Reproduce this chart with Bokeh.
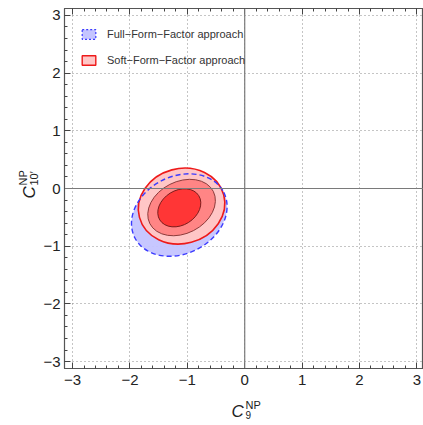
import math
from bokeh.plotting import figure
from bokeh.layouts import row, column
from bokeh.models import (Range1d, SingleIntervalTicker, LinearAxis, Span, Legend,
                          LegendItem, Label, CustomJSTickFormatter, ColumnDataSource)
from bokeh.embed import file_html
from bokeh.resources import INLINE

# ---------------- data ----------------
# Full-Form-Factor approach: allowed region (ellipse parameters)
ffa_cx = [-1.14]
ffa_cy = [-0.46]
ffa_w = [1.74]
ffa_h = [1.34]
ffa_angle = [27]

# Soft-Form-Factor approach: 3 sigma, 2 sigma, 1 sigma regions
sfa_level = ["3σ", "2σ", "1σ"]
sfa_cx = [-1.10, -1.10, -1.14]
sfa_cy = [-0.305, -0.33, -0.335]
sfa_w = [1.52, 1.24, 0.80]
sfa_h = [1.30, 0.90, 0.60]
sfa_angle = [15, 27, 32]

legend_labels = ["Full\u2212Form\u2212Factor approach", "Soft\u2212Form\u2212Factor approach"]
NAN = float("nan")

# ---------------- styles ----------------
sfa_fill = ["#ffc6c6", "#ff8585", "#ff3636"]
sfa_line = ["#ee1a1a", "#8c3a3a", "#7a1c1c"]
sfa_lw = [1.6, 1.0, 1.0]
FONT = "Liberation Sans"

YT_W = 40      # width of the strip holding the y title
MAIN_H = 392   # height of the main figure
XT_H = 28      # height of the strip holding the x title

p = figure(width=423 - YT_W, height=MAIN_H,
           x_range=Range1d(-3.14, 3.115), y_range=Range1d(-3.12, 3.12),
           output_backend="svg", toolbar_location=None,
           min_border_left=64 - YT_W, min_border_right=0, min_border_top=8,
           min_border_bottom=MAIN_H - 368, background_fill_color="white",
           border_fill_color="white")
p.outline_line_color = "#555555"
p.outline_line_width = 1.2

ticker = SingleIntervalTicker(interval=1, num_minor_ticks=5)
fmt = CustomJSTickFormatter(code="return tick < 0 ? '\\u2212' + Math.abs(tick) : String(tick);")

for ax in [p.xaxis[0], p.yaxis[0]]:
    ax.ticker = ticker
    ax.formatter = fmt
    ax.major_tick_in = 6
    ax.major_tick_out = 0
    ax.minor_tick_in = 3
    ax.minor_tick_out = 0
    ax.major_tick_line_color = "#444444"
    ax.minor_tick_line_color = "#444444"
    ax.axis_line_color = "#555555"
    ax.major_label_text_font = FONT
    ax.major_label_text_font_size = "15px"
    ax.major_label_text_color = "#222222"
p.xaxis.major_label_standoff = 6
p.yaxis.major_label_standoff = 4

top_ax = LinearAxis(ticker=ticker, major_tick_in=6, major_tick_out=0,
                    minor_tick_in=3, minor_tick_out=0,
                    major_label_text_font_size="0px", major_label_standoff=0,
                    major_tick_line_color="#444444", minor_tick_line_color="#444444",
                    axis_line_color="#555555")
top_ax.formatter = CustomJSTickFormatter(code="return '';")
p.add_layout(top_ax, "above")

p.xgrid.ticker = ticker
p.ygrid.ticker = ticker
for g in [p.xgrid[0], p.ygrid[0]]:
    g.grid_line_color = "#8a8a8a"
    g.grid_line_dash = "1 3"
    g.grid_line_width = 1

# blue region (fill)
ffa_src = ColumnDataSource(dict(x=ffa_cx, y=ffa_cy, w=ffa_w, h=ffa_h, a=ffa_angle))
p.ellipse(x="x", y="y", width="w", height="h", angle="a", angle_units="deg",
          source=ffa_src, fill_color="#c4c4ff", fill_alpha=0.95, line_color=None)

# red regions
sfa_src = ColumnDataSource(dict(x=sfa_cx, y=sfa_cy, w=sfa_w, h=sfa_h, a=sfa_angle,
                                fc=sfa_fill, lc=sfa_line, lw=sfa_lw, lev=sfa_level))
p.ellipse(x="x", y="y", width="w", height="h", angle="a", angle_units="deg",
          source=sfa_src, fill_color="fc", line_color="lc", line_width="lw")

# blue dashed boundary on top
p.ellipse(x="x", y="y", width="w", height="h", angle="a", angle_units="deg",
          source=ffa_src, fill_color=None, line_color="#3b3bff", line_width=1.4,
          line_dash="5 3")

# zero lines
p.add_layout(Span(location=0, dimension="height", line_color="#7a7a7a", line_width=1.2))
p.add_layout(Span(location=0, dimension="width", line_color="#7a7a7a", line_width=1.2))

# legend swatches (no visible marks, used only for rectangular legend glyphs)
r_blue = p.patch(x=[NAN], y=[NAN], fill_color="#c4c4ff", line_color="#3b3bff",
                 line_dash="2 2", line_width=1.2)
r_red = p.patch(x=[NAN], y=[NAN], fill_color="#ffc6c6", line_color="#ee1a1a",
                line_width=1.4)
legend = Legend(items=[LegendItem(label=legend_labels[0], renderers=[r_blue]),
                       LegendItem(label=legend_labels[1], renderers=[r_red])],
                location="top_left", margin=16, padding=10, spacing=6,
                glyph_width=17, glyph_height=12, label_standoff=10,
                label_height=20, label_text_font=FONT, label_text_font_size="11px",
                label_text_color="#333333", background_fill_alpha=0,
                border_line_color=None)
p.add_layout(legend)


def strip(width, height):
    f = figure(width=width, height=height, output_backend="svg",
               toolbar_location=None, x_axis_type=None, y_axis_type=None,
               x_range=Range1d(0, width), y_range=Range1d(0, height),
               min_border=0, outline_line_color=None)
    return f


def lab(f, text, x, y, size, style="normal", angle=0.0):
    f.add_layout(Label(x=x, y=y, x_units="canvas", y_units="canvas", text=text,
                       text_font=FONT, text_font_size=size, text_font_style=style,
                       text_color="#222222", text_align="left",
                       text_baseline="alphabetic", angle=angle))


# y title strip: C_10'^NP (rotated); canvas coordinates from strip top-left
yt = strip(YT_W, MAIN_H)
lab(yt, "C", 29, 198, "17px", "italic", math.pi / 2)
lab(yt, "NP", 22, 185, "11px", "normal", math.pi / 2)
lab(yt, "10\u2032", 33, 185, "11px", "normal", math.pi / 2)

# x title strip: C_9^NP
xt = strip(423, XT_H)
lab(xt, "C", 231, 19, "17px", "italic")
lab(xt, "NP", 245, 12, "11px")
lab(xt, "9", 245, 22, "10px")

layout = column(row(yt, p, spacing=0), xt, spacing=0)
open("out.html", "w").write(file_html(layout, INLINE))
